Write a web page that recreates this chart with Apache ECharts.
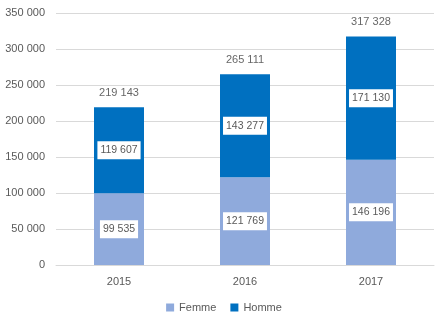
<!DOCTYPE html>
<html><head><meta charset="utf-8">
<script src="https://cdn.jsdelivr.net/npm/echarts@6/dist/echarts.min.js"></script>
<style>html,body{margin:0;padding:0;background:#fff}#c{width:448px;height:325px}</style>
</head><body><div id="c"></div>
<script>
const categories = ['2015', '2016', '2017'];
const femme = [99535, 121769, 146196];
const homme = [119607, 143277, 171130];
const totals = [219143, 265111, 317328];

function fmt(v){ return String(Math.round(v)).replace(/\B(?=(\d{3})+(?!\d))/g, ' '); }

const chart = echarts.init(document.getElementById('c'));
const font = '"Liberation Sans", Arial, sans-serif';
const boxLabel = {
  show: true, position: 'inside', color: '#595959', fontSize: 10.5, fontFamily: font,
  backgroundColor: '#fff', padding: [4, 3, 3, 3],
  formatter: p => fmt(p.value)
};
chart.setOption({
  animation: false,
  textStyle: { fontFamily: font },
  grid: { left: 56, right: 14, top: 13, bottom: 60 },
  xAxis: {
    type: 'category', data: categories,
    axisLine: { lineStyle: { color: '#d9d9d9' } },
    axisTick: { show: false },
    axisLabel: { color: '#595959', fontSize: 11, margin: 11, fontFamily: font }
  },
  yAxis: {
    type: 'value', min: 0, max: 350000, interval: 50000,
    axisLine: { show: false }, axisTick: { show: false },
    splitLine: { lineStyle: { color: '#d9d9d9' } },
    axisLabel: { color: '#595959', fontSize: 11, margin: 11, fontFamily: font, formatter: v => fmt(v) }
  },
  legend: {
    bottom: 7, left: 'center', itemWidth: 8, itemHeight: 8, itemGap: 14,
    icon: 'rect', data: ['Femme', 'Homme'],
    textStyle: { color: '#595959', fontSize: 11, fontFamily: font }
  },
  series: [
    { name: 'Femme', type: 'bar', stack: 's', data: femme, barWidth: 50,
      itemStyle: { color: '#8faadc' }, label: boxLabel },
    { name: 'Homme', type: 'bar', stack: 's', data: homme, barWidth: 50,
      itemStyle: { color: '#0070c0' }, label: boxLabel },
    { name: 'Total', type: 'scatter', data: totals, symbolSize: 0, silent: true,
      label: { show: true, position: 'top', distance: 9, color: '#404040', fontSize: 11, fontFamily: font,
        formatter: p => fmt(p.value) } }
  ]
});
</script></body></html>
